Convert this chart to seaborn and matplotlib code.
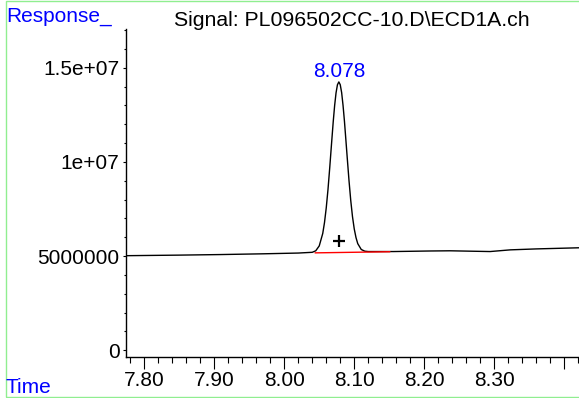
import numpy as np
import pandas as pd
import matplotlib
matplotlib.use("Agg")
import matplotlib.pyplot as plt
import seaborn as sns
from matplotlib.patches import Rectangle
from matplotlib.ticker import MultipleLocator, FixedLocator

# signal trace (time in min, response)
time = [7.774, 7.85, 7.909, 7.97, 8.020, 8.040, 8.045, 8.050, 8.055, 8.0575,
        8.060, 8.0625, 8.065, 8.0675, 8.070, 8.072, 8.074, 8.076, 8.078,
        8.080, 8.082, 8.084, 8.086, 8.088, 8.090, 8.0925, 8.095, 8.0975,
        8.100, 8.1025, 8.105, 8.110, 8.115, 8.120, 8.156, 8.209, 8.237,
        8.265, 8.294, 8.323, 8.36, 8.421]
response = [5.02e6, 5.05e6, 5.08e6, 5.12e6, 5.16e6, 5.20e6, 5.28e6, 5.54e6,
            6.20e6, 6.78e6, 7.56e6, 8.54e6, 9.70e6, 10.94e6, 12.15e6,
            13.0e6, 13.67e6, 14.10e6, 14.25e6, 14.10e6, 13.68e6, 13.0e6,
            12.16e6, 11.19e6, 10.21e6, 9.01e6, 7.95e6, 7.09e6, 6.44e6,
            5.98e6, 5.66e6, 5.35e6, 5.26e6, 5.24e6, 5.24e6, 5.27e6, 5.28e6,
            5.26e6, 5.24e6, 5.33e6, 5.38e6, 5.44e6]

# integration baseline of the peak
base_time = [8.044, 8.151]
base_resp = [5.17e6, 5.23e6]

peak_rt = 8.078
peak_mark = 5.775e6
peak_label_y = 1.45e7

ytick_vals = [0, 5e6, 1e7, 1.5e7]
ytick_text = ["0", "5000000", "1e+07", "1.5e+07"]
xtick_vals = [7.8, 7.9, 8.0, 8.1, 8.2, 8.3, 8.4]
xtick_text = ["7.80", "7.90", "8.00", "8.10", "8.20", "8.30", ""]

df = pd.DataFrame({"Time": time, "Response": response})

sns.set_style("ticks")
plt.rcParams["font.family"] = ["Liberation Sans", "DejaVu Sans"]

W, H = 579, 398
fig = plt.figure(figsize=(W / 100, H / 100), dpi=100)
ax = fig.add_axes([126 / W, 1 - 356.7 / H, 1 - 126 / W, (356.7 - 29) / H])

sns.lineplot(data=df, x="Time", y="Response", ax=ax, color="black",
             linewidth=1.0, sort=False, estimator=None)
ax.plot(base_time, base_resp, color="#ff0000", linewidth=1.0)
ax.plot([peak_rt], [peak_mark], marker="+", color="black", markersize=9,
        markeredgewidth=1.6, linestyle="none")
ax.text(peak_rt, peak_label_y, "8.078", color="#0000ff", fontsize=15,
        ha="center", va="baseline")

ax.set_xlim(7.774, 8.421)
ax.set_ylim(-0.345e6, 1.706e7)

ax.xaxis.set_major_locator(FixedLocator(xtick_vals))
ax.set_xticklabels(xtick_text)
ax.xaxis.set_minor_locator(MultipleLocator(0.02))
ax.yaxis.set_major_locator(FixedLocator(ytick_vals))
ax.set_yticklabels(ytick_text)
ax.yaxis.set_minor_locator(MultipleLocator(1e6))

ax.tick_params(axis="x", which="major", length=8.6, width=0.8, labelsize=15,
               pad=2, direction="out", colors="black")
ax.tick_params(axis="x", which="minor", length=4.3, width=0.8,
               direction="out", colors="black")
ax.tick_params(axis="y", which="major", length=2.2, width=0.8, labelsize=15,
               pad=2.5, direction="out", colors="black")
ax.tick_params(axis="y", which="minor", length=1.8, width=0.8,
               direction="out", colors="black")

for s in ["top", "right"]:
    ax.spines[s].set_visible(False)
for s in ["left", "bottom"]:
    ax.spines[s].set_color("black")
    ax.spines[s].set_linewidth(1.0)
ax.set_xlabel("")
ax.set_ylabel("")
ax.patch.set_alpha(0)

# labels around the plot
fig.text(6 / W, 1 - 22 / H, "Response_", color="#0000ff", fontsize=15,
         ha="left", va="baseline")
fig.text(174 / W, 1 - 26 / H, "Signal: PL096502CC-10.D\\ECD1A.ch",
         color="black", fontsize=15.3, ha="left", va="baseline")
fig.text(6 / W, 1 - 393 / H, "Time", color="#0000ff", fontsize=15,
         ha="left", va="baseline")

# light green frame
fig.add_artist(Rectangle((5.5 / W, 1 - 396.5 / H), 1.2, 395.5 / H,
                         transform=fig.transFigure, fill=False,
                         edgecolor="#90ee90", linewidth=1.0))

fig.savefig("out.png", dpi=100)
